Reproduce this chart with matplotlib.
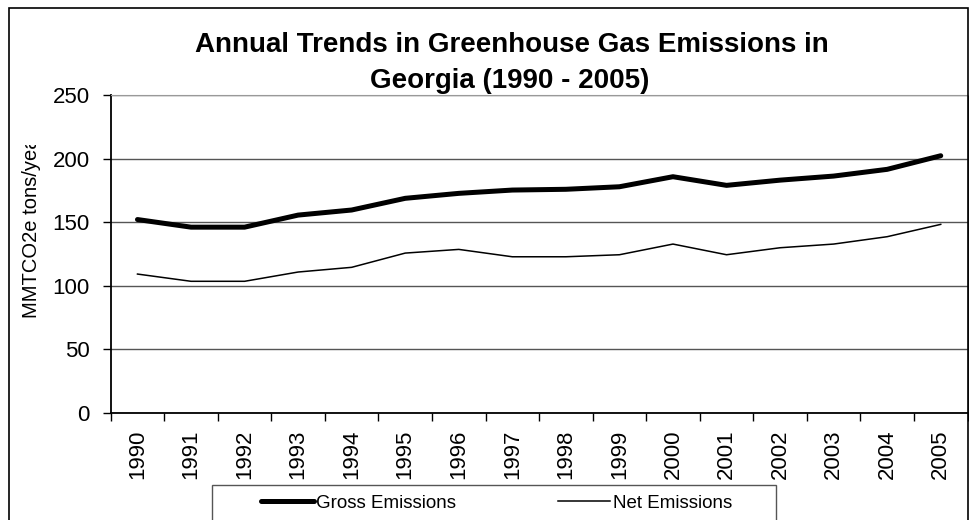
import matplotlib
matplotlib.use('Agg')
import matplotlib.pyplot as plt
from matplotlib.patches import Rectangle
from matplotlib.transforms import Bbox
from matplotlib.lines import Line2D

plt.rcParams['font.family'] = ['Liberation Sans', 'DejaVu Sans']

years = [str(y) for y in range(1990, 2006)]
gross = [152, 146, 146, 155.5, 159.5, 168.7, 172.6, 175.2, 175.8, 177.8,
         185.7, 178.9, 183, 186.2, 191.5, 202.2]
net = [109.1, 103.4, 103.4, 110.7, 114.4, 125.6, 128.5, 122.7, 122.7, 124.3,
       132.7, 124.3, 129.8, 132.7, 138.5, 148.2]

W, H = 969, 520
fig = plt.figure(figsize=(W / 100, H / 100), dpi=100)

# plot area in pixel coords
left, right, top, bottom = 110.7, 967.5, 95, 412.7
ax = fig.add_axes([left / W, 1 - bottom / H, (right - left) / W, (bottom - top) / H])

x = list(range(len(years)))
ax.plot(x, gross, color='black', lw=3.6, solid_capstyle='round', solid_joinstyle='round',
        label='Gross Emissions', zorder=3)
ax.plot(x, net, color='black', lw=1.1, label='Net Emissions', zorder=3)

ax.set_xlim(-0.5, len(years) - 0.5)
ax.set_ylim(0, 250)
ax.set_yticks(range(0, 251, 50))
ax.yaxis.grid(True, color='#555555', lw=1)
ax.set_axisbelow(True)

ax.set_xticks([i - 0.5 for i in range(len(years) + 1)])
ax.set_xticklabels([])
ax.set_xticks(x, minor=True)
ax.set_xticklabels(years, minor=True, rotation=90, fontsize=16)
ax.tick_params(axis='x', which='major', length=6, width=1, direction='out')
ax.tick_params(axis='x', which='minor', length=0, pad=12)
ax.tick_params(axis='y', length=6, width=1, direction='out', labelsize=16, pad=9)

for s in ['left', 'bottom']:
    ax.spines[s].set_color('black')
    ax.spines[s].set_linewidth(1.3)
ax.spines['top'].set_color('#999999')
ax.spines['right'].set_color('#333333')

# outer chart border
fig.patches.append(Rectangle((9 / W, -0.05), (968 - 9) / W, 1.05 - 8 / H,
                             transform=fig.transFigure, fill=False,
                             edgecolor='black', lw=1.2))

fig.text(512 / W, 1 - 51.7 / H, 'Annual Trends in Greenhouse Gas Emissions in',
         ha='center', va='baseline', fontsize=20, fontweight='bold')
fig.text(510 / W, 1 - 88 / H, 'Georgia (1990 - 2005)',
         ha='center', va='baseline', fontsize=20, fontweight='bold')

yl = fig.text(32 / W, 1 - 318 / H, 'MMTCO2e tons/year', rotation=90,
              ha='center', va='bottom', fontsize=14.5)
yl.set_clip_box(Bbox([[0, 0], [W, H - 145]]))
yl.set_clip_on(True)

# legend frame (runs off the bottom of the chart, as in the original)
fig.patches.append(Rectangle((212 / W, -0.05), (776 - 212) / W, 0.05 + 1 - 485 / H,
                             transform=fig.transFigure, fill=False,
                             edgecolor='#555555', lw=1))
handles = [Line2D([], [], color='black', lw=3.6, solid_capstyle='round'),
           Line2D([], [], color='black', lw=1.1)]
leg = fig.legend(handles, ['Gross Emissions', 'Net Emissions'], ncol=2,
                 loc='center left', bbox_to_anchor=(261 / W, 1 - 503 / H),
                 fontsize=13.5, frameon=False, handlelength=2.8, handletextpad=0.15,
                 columnspacing=5.4, borderpad=0, borderaxespad=0)

fig.savefig('out.png', dpi=100)
